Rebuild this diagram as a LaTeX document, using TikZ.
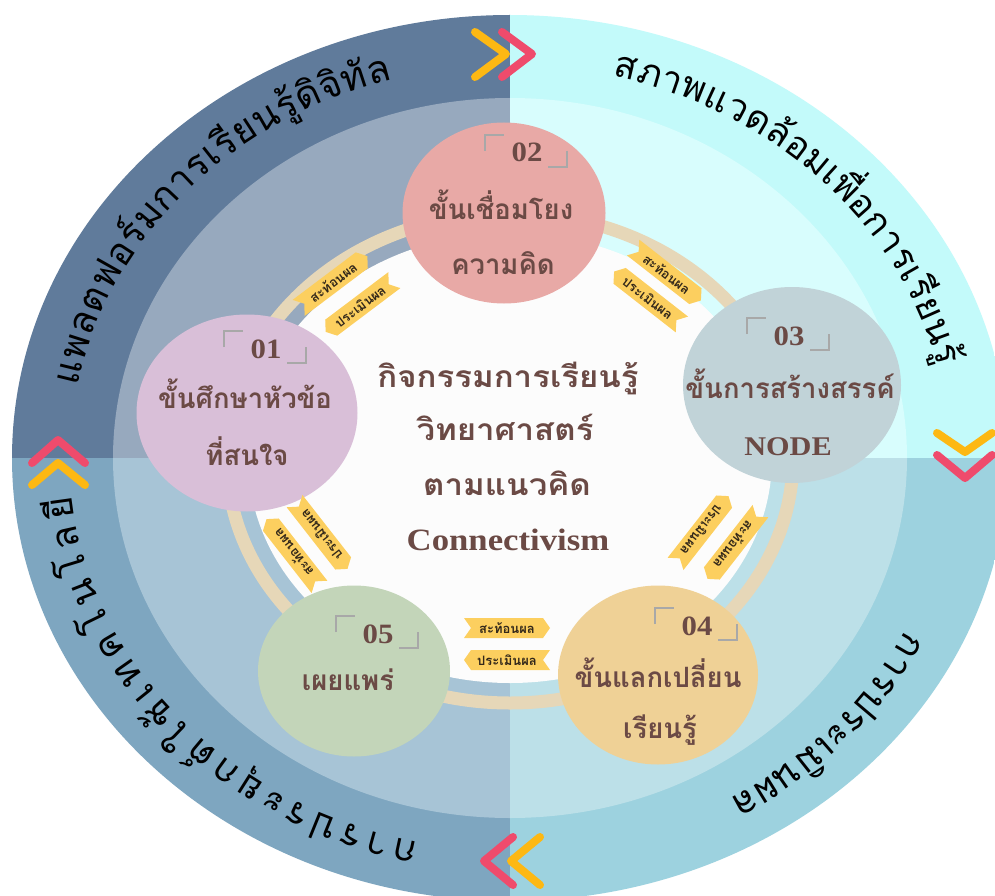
\documentclass[tikz,border=0pt]{standalone}
\usepackage{fontspec}
\setmainfont{Liberation Serif}
\newfontfamily\thaifont[Script=Thai]{Loma}
\usetikzlibrary{shapes.geometric,shapes.symbols,decorations.text}

\definecolor{bandTL}{HTML}{607B9B}
\definecolor{fieldTL}{HTML}{97A9BE}
\definecolor{bandTR}{HTML}{C3FAFA}
\definecolor{fieldTR}{HTML}{D8FDFD}
\definecolor{bandBL}{HTML}{7EA6C0}
\definecolor{fieldBL}{HTML}{A7C4D6}
\definecolor{bandBR}{HTML}{9DD2DF}
\definecolor{fieldBR}{HTML}{BCE0E8}
\definecolor{track}{HTML}{E6D7B8}
\definecolor{core}{HTML}{FCFCFC}
\definecolor{ink}{HTML}{6B4A45}
\definecolor{tagfill}{HTML}{FCCF5F}
\definecolor{tagink}{HTML}{33281A}
\definecolor{chevRed}{HTML}{EF4B6C}
\definecolor{chevGold}{HTML}{FDB813}
\definecolor{stageA}{HTML}{D9BFD8}
\definecolor{stageB}{HTML}{E8A9A6}
\definecolor{stageC}{HTML}{C1D3D8}
\definecolor{stageD}{HTML}{EFD196}
\definecolor{stageE}{HTML}{C3D5B9}
\definecolor{bracketGray}{HTML}{A8A8A8}

\tikzset{
  stage/.style={ellipse, inner sep=0pt, draw=none},
  stageLine/.style={font=\thaifont\bfseries\fontsize{28}{34}\selectfont, text=ink,
    anchor=base, inner sep=0pt, xscale=0.98},
  coreLine/.style={font=\thaifont\bfseries\fontsize{30}{36}\selectfont, text=ink,
    anchor=base, inner sep=0pt, xscale=1.1},
  latinLine/.style={font=\bfseries\fontsize{31}{36}\selectfont, text=ink,
    anchor=base, inner sep=0pt, xscale=1.12},
  stageNum/.style={font=\bfseries\fontsize{28}{30}\selectfont, text=ink,
    anchor=base, inner sep=0pt, xscale=1.1},
  corner/.style={draw=bracketGray, line width=1.1pt},
  tagbox/.style={signal, fill=tagfill, inner sep=0pt, minimum width=86pt,
    minimum height=20pt, signal pointer angle=110,
    font=\thaifont\bfseries\fontsize{13}{14}\selectfont, text=tagink},
  tagfwd/.style={tagbox, signal to=east, signal from=west},
  tagback/.style={tagbox, signal to=west, signal from=east},
  chev/.style={line width=8pt, line cap=round, line join=round},
  ringtext/.style={decorate, decoration={text along path, text align={fit to path}}},
}

\begin{document}
\begin{tikzpicture}[x=1pt, y=-1pt]
\useasboundingbox (0,0) rectangle (995,896);
\fill[white] (0,0) rectangle (995,896);

% outer band, four quadrants
\begin{scope}
  \clip (510,458) ellipse[x radius=498, y radius=443];
  \fill[bandTL] (0,0) rectangle (510,458);
  \fill[bandTR] (510,0) rectangle (1010,458);
  \fill[bandBL] (0,458) rectangle (510,910);
  \fill[bandBR] (510,458) rectangle (1010,910);
\end{scope}
% inner field, four quadrants
\begin{scope}
  \clip (510,458) ellipse[x radius=397, y radius=360];
  \fill[fieldTL] (0,0) rectangle (510,458);
  \fill[fieldTR] (510,0) rectangle (1010,458);
  \fill[fieldBL] (0,458) rectangle (510,910);
  \fill[fieldBR] (510,458) rectangle (1010,910);
\end{scope}

% track joining the stages and the white core
\draw[track, line width=13pt] (510,458) ellipse[x radius=283, y radius=245];
\fill[core] (510,458) ellipse[x radius=262, y radius=225];

% texts running round the outer band
\path[ringtext, decoration={text={|\thaifont\fontsize{38}{38}\selectfont|แพลตฟอ{ร์}มการเ{รี}ยน{รู้}{ดิ}{จิ}{ทั}ล}}]
  (510,458) ++(-169.5:440 and 393) arc[start angle=-169.5, end angle=-105.5, x radius=440, y radius=393];
\path[ringtext, decoration={text={|\thaifont\fontsize{37}{37}\selectfont|สภาพแวด{ล้}อมเ{พื่}อการเ{รี}ยน{รู้}}}]
  (510,458) ++(-76.5:440 and 393) arc[start angle=-76.5, end angle=-13.5, x radius=440, y radius=393];
\path[ringtext, decoration={text={|\thaifont\fontsize{38}{38}\selectfont|การประเ{มิ}นผล}}]
  (510,458) ++(26:440 and 393) arc[start angle=26, end angle=60, x radius=440, y radius=393];
\path[ringtext, decoration={text={|\thaifont\fontsize{38}{38}\selectfont|การประ{ยุ}ก{ต์}ใ{ช้}เทคโนโล{ยี}}}]
  (510,458) ++(102:440 and 393) arc[start angle=102, end angle=174.5, x radius=440, y radius=393];

% chevrons on the quadrant borders
\draw[chev, chevGold] (475,32) -- (506,54) -- (475,77);
\draw[chev, chevRed] (502,32) -- (532,54) -- (502,77);
\draw[chev, chevGold] (937,433) -- (965,452) -- (992,433);
\draw[chev, chevRed] (937,455) -- (965,478) -- (992,455);
\draw[chev, chevRed] (32,463) -- (58,440) -- (85,463);
\draw[chev, chevGold] (32,485) -- (58,463) -- (85,485);
\draw[chev, chevRed] (513,837) -- (484,861) -- (513,885);
\draw[chev, chevGold] (540,837) -- (511,861) -- (540,885);

% stages
\node[stage, fill=stageA, minimum width=221pt, minimum height=197pt] (s1) at (247,413) {};
\node[stage, fill=stageB, minimum width=203pt, minimum height=181pt] (s2) at (504,213) {};
\node[stage, fill=stageC, minimum width=218pt, minimum height=196pt] (s3) at (792,385) {};
\node[stage, fill=stageD, minimum width=200pt, minimum height=179pt] (s4) at (658,675) {};
\node[stage, fill=stageE, minimum width=192pt, minimum height=171pt] (s5) at (354,671) {};

\node[stageNum] (n1) at (266,358) {01};
\node[stageNum] (n2) at (527,162) {02};
\node[stageNum] (n3) at (789,345) {03};
\node[stageNum] (n4) at (697,635) {04};
\node[stageNum] (n5) at (378,643) {05};
\foreach \n in {n1,n2,n3,n4,n5} {
  \draw[corner] ([shift={(-42,-11)}]\n.base) |- ([shift={(-23,-27)}]\n.base);
  \draw[corner] ([shift={(40,-11)}]\n.base) |- ([shift={(21,5)}]\n.base);
}

\node[stageLine] (s1a) at (245,408) {ขั้นศึกษาหัวข้อ};
\node[stageLine] (s1b) at (247,465) {ที่สนใจ};
\node[stageLine] (s2a) at (501,219) {ขั้นเชื่อมโยง};
\node[stageLine] (s2b) at (503,274) {ความคิด};
\node[stageLine] (s3a) at (790,398) {ขั้นการสร้างสรรค์};
\node[latinLine, font=\bfseries\fontsize{27}{30}\selectfont] (s3b) at (788,455) {NODE};
\node[stageLine] (s4a) at (658,687) {ขั้นแลกเปลี่ยน};
\node[stageLine] (s4b) at (660,738) {เรียนรู้};
\node[stageLine] (s5a) at (348,690) {เผยแพร่};

% title in the core
\node[coreLine] (c1) at (508,387) {กิจกรรมการเรียนรู้};
\node[coreLine] (c2) at (505,440) {วิทยาศาสตร์};
\node[coreLine] (c3) at (507,495) {ตามแนวคิด};
\node[latinLine] (c4) at (508,550) {Connectivism};

% feedback tags between neighbouring stages
\node[tagfwd, rotate=37] (r12) at (333,282) {สะท้อนผล};
\node[tagback, rotate=37] (e12) at (360,306) {ประเมินผล};
\node[tagfwd, rotate=-38] (r23) at (667,274) {สะท้อนผล};
\node[tagback, rotate=-38] (e23) at (648,298) {ประเมินผล};
\node[tagfwd, rotate=232] (r34) at (734,545) {สะท้อนผล};
\node[tagback, rotate=232] (e34) at (702,530) {ประเมินผล};
\node[tagfwd] (r45) at (507,628) {สะท้อนผล};
\node[tagback] (e45) at (507,660) {ประเมินผล};
\node[tagfwd, rotate=128] (r51) at (293,553) {สะท้อนผล};
\node[tagback, rotate=128] (e51) at (321,535) {ประเมินผล};
\end{tikzpicture}
\end{document}
